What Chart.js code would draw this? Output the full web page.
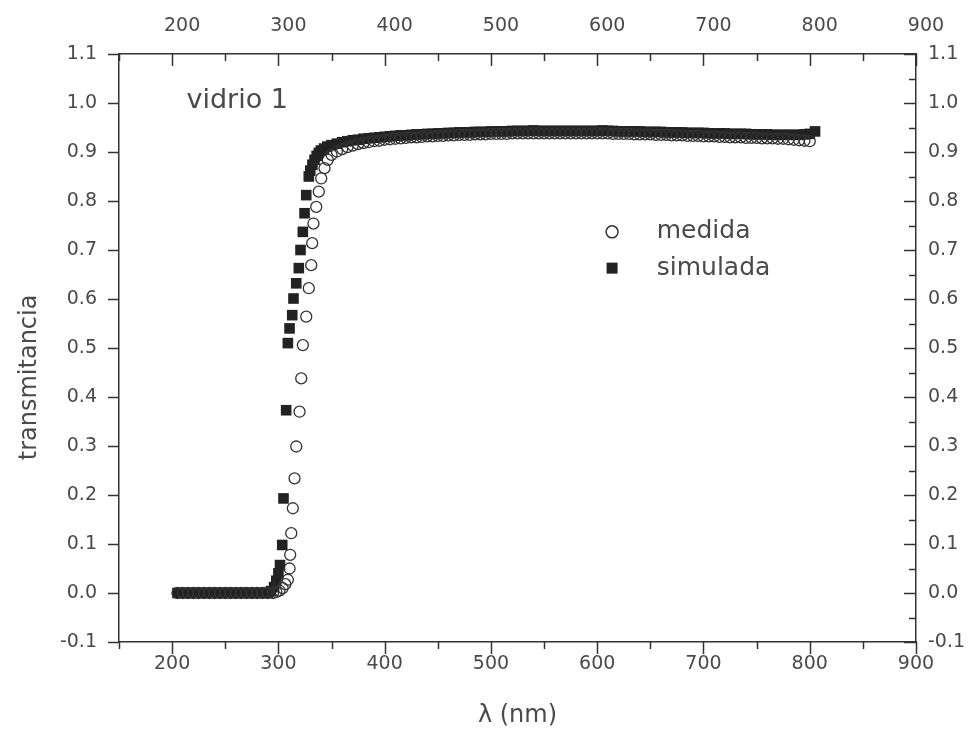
<!DOCTYPE html>
<html>
<head>
<meta charset="utf-8">
<script src="https://cdn.jsdelivr.net/npm/chart.js@4.4.0/dist/chart.umd.min.js"></script>
<style>
  html, body { margin: 0; padding: 0; background: #fff; }
  #wrap { width: 972px; height: 731px; }
</style>
</head>
<body>
<div id="wrap"><canvas id="chart" width="972" height="731"></canvas></div>
<script>
// tick values
const xTicks = [200, 300, 400, 500, 600, 700, 800, 900];
const xMinorTicks = [150, 250, 350, 450, 550, 650, 750, 850];
const yTicks = [-0.1, 0.0, 0.1, 0.2, 0.3, 0.4, 0.5, 0.6, 0.7, 0.8, 0.9, 1.0, 1.1];
const yMinorTicks = [-0.05, 0.05, 0.15, 0.25, 0.35, 0.45, 0.55, 0.65, 0.75, 0.85, 0.95, 1.05];

// medida (open circles)
const medidaX = [
  205, 210, 215, 220, 225, 230, 235, 240, 245, 250, 255, 260, 265, 270, 275, 280, 285, 290, 295,
  298, 301, 304, 306.5, 308.9, 310.5, 311.1, 312.1, 313.6, 315.2, 316.8, 319.9, 321.5, 323,
  326.2, 328.6, 330.9, 331.8, 333, 335.6, 338, 340.3, 343.4, 346.5,
  350, 355, 360, 365, 370, 375, 380, 385, 390, 395, 400, 405, 410, 415, 420, 425, 430, 435, 440, 445,
  450, 455, 460, 465, 470, 475, 480, 485, 490, 495, 500, 505, 510, 515, 520, 525, 530, 535, 540, 545,
  550, 555, 560, 565, 570, 575, 580, 585, 590, 595, 600, 605, 610, 615, 620, 625, 630, 635, 640, 645,
  650, 655, 660, 665, 670, 675, 680, 685, 690, 695, 700, 705, 710, 715, 720, 725, 730, 735, 740, 745,
  750, 755, 760, 765, 770, 775, 780, 785, 790, 795, 800
];
const medidaY = [
  0, 0, 0, 0, 0, 0, 0, 0, 0, 0, 0, 0, 0, 0, 0, 0, 0, 0, 0,
  0.002, 0.005, 0.010, 0.018, 0.027, 0.050, 0.078, 0.122, 0.173, 0.234, 0.299, 0.370, 0.438, 0.506,
  0.564, 0.622, 0.669, 0.714, 0.754, 0.788, 0.819, 0.846, 0.867, 0.884,
  0.894, 0.901, 0.906, 0.910, 0.913, 0.916, 0.918, 0.920, 0.922, 0.923, 0.925, 0.926, 0.927, 0.928, 0.929, 0.930, 0.930, 0.931, 0.932, 0.932,
  0.933, 0.933, 0.934, 0.934, 0.935, 0.935, 0.935, 0.936, 0.936, 0.936, 0.937, 0.937, 0.937, 0.937, 0.938, 0.938, 0.938, 0.938, 0.938, 0.938,
  0.938, 0.938, 0.938, 0.938, 0.938, 0.938, 0.938, 0.938, 0.938, 0.938, 0.938, 0.938, 0.938, 0.937, 0.937, 0.937, 0.937, 0.936, 0.936, 0.936,
  0.936, 0.935, 0.935, 0.935, 0.934, 0.934, 0.934, 0.933, 0.933, 0.933, 0.932, 0.932, 0.932, 0.931, 0.931, 0.930, 0.930, 0.930, 0.929, 0.929,
  0.929, 0.928, 0.928, 0.928, 0.927, 0.927, 0.926, 0.925, 0.924, 0.923, 0.922
];

// simulada (filled squares)
const simuladaX = [
  205, 210, 215, 220, 225, 230, 235, 240, 245, 250, 255, 260, 265, 270, 275, 280, 285, 290,
  293, 296, 298, 300, 301.5, 303.6, 304.8, 307.3, 308.9, 310.5, 313, 314.2, 316.8, 319.2, 320.8,
  323, 324.6, 326.2, 328.6, 330, 332, 334, 336, 338, 340, 343, 346,
  350, 355, 360, 365, 370, 375, 380, 385, 390, 395, 400, 405, 410, 415, 420, 425, 430, 435, 440, 445,
  450, 455, 460, 465, 470, 475, 480, 485, 490, 495, 500, 505, 510, 515, 520, 525, 530, 535, 540, 545,
  550, 555, 560, 565, 570, 575, 580, 585, 590, 595, 600, 605, 610, 615, 620, 625, 630, 635, 640, 645,
  650, 655, 660, 665, 670, 675, 680, 685, 690, 695, 700, 705, 710, 715, 720, 725, 730, 735, 740, 745,
  750, 755, 760, 765, 770, 775, 780, 785, 790, 795, 800, 805
];
const simuladaY = [
  0, 0, 0, 0, 0, 0, 0, 0, 0, 0, 0, 0, 0, 0, 0, 0, 0, 0,
  0.004, 0.012, 0.025, 0.040, 0.057, 0.098, 0.193, 0.373, 0.510, 0.540, 0.567, 0.601, 0.632, 0.663, 0.700,
  0.737, 0.775, 0.812, 0.850, 0.862, 0.874, 0.884, 0.892, 0.898, 0.903, 0.907, 0.911,
  0.914, 0.917, 0.920, 0.922, 0.924, 0.925, 0.927, 0.928, 0.929, 0.930, 0.931, 0.932, 0.933, 0.934, 0.934, 0.935, 0.936, 0.936, 0.937, 0.937,
  0.938, 0.938, 0.939, 0.939, 0.940, 0.940, 0.940, 0.941, 0.941, 0.941, 0.942, 0.942, 0.942, 0.942, 0.943, 0.943, 0.943, 0.943, 0.944, 0.943,
  0.943, 0.943, 0.943, 0.943, 0.943, 0.943, 0.943, 0.943, 0.943, 0.943, 0.943, 0.944, 0.943, 0.943, 0.942, 0.942, 0.942, 0.942, 0.942, 0.941,
  0.941, 0.941, 0.941, 0.940, 0.940, 0.940, 0.940, 0.939, 0.939, 0.939, 0.939, 0.938, 0.938, 0.938, 0.938, 0.937, 0.937, 0.937, 0.937, 0.936,
  0.936, 0.936, 0.936, 0.935, 0.935, 0.935, 0.935, 0.935, 0.935, 0.936, 0.937, 0.942
];

const toPoints = (xs, ys) => xs.map((x, i) => ({ x: x, y: ys[i] }));

const ink = '#333333';
const textInk = '#4a4a4a';
const fontFamily = '"DejaVu Sans", "Liberation Sans", Arial, sans-serif';

// short tick marks: bottom/left point out, top/right point in
const tickMarks = {
  id: 'tickMarks',
  afterDraw(chart) {
    const { ctx, chartArea: a, scales } = chart;
    ctx.save();
    ctx.strokeStyle = ink;
    ctx.lineWidth = 1.5;
    const vTicks = (vals, len, yBase, dir) => vals.forEach(v => {
      const px = Math.round(scales.x.getPixelForValue(v)) + 0.5;
      ctx.beginPath(); ctx.moveTo(px, yBase); ctx.lineTo(px, yBase + dir * len); ctx.stroke();
    });
    const hTicks = (vals, len, xBase, dir) => vals.forEach(v => {
      const py = Math.round(scales.y.getPixelForValue(v)) + 0.5;
      ctx.beginPath(); ctx.moveTo(xBase, py); ctx.lineTo(xBase + dir * len, py); ctx.stroke();
    });
    vTicks(xTicks, 12, a.bottom, 1);
    vTicks(xMinorTicks, 7, a.bottom, 1);
    vTicks(xTicks, 12, a.top, 1);
    vTicks(xMinorTicks, 7, a.top, 1);
    hTicks(yTicks, 11, a.left, -1);
    hTicks(yTicks, 12, a.right, -1);
    hTicks(yMinorTicks, 7, a.right, -1);
    ctx.restore();
  }
};

// sample label, y title and legend
const annotations = {
  id: 'annotations',
  afterDraw(chart) {
    const { ctx, scales: { x, y } } = chart;
    ctx.save();
    ctx.fillStyle = textInk;
    ctx.textBaseline = 'middle';
    ctx.textAlign = 'left';
    ctx.font = '27px ' + fontFamily;
    ctx.fillText('vidrio 1', x.getPixelForValue(213.5), y.getPixelForValue(1.004));

    // y axis title, sits a bit below the middle of the axis like the original
    ctx.save();
    ctx.translate(30, y.getPixelForValue(0.44));
    ctx.rotate(-Math.PI / 2);
    ctx.textAlign = 'center';
    ctx.font = '24px ' + fontFamily;
    ctx.fillText('transmitancia', 0, 0);
    ctx.restore();

    ctx.font = '25px ' + fontFamily;
    const lx = x.getPixelForValue(614);
    const tx = x.getPixelForValue(656);
    const y1 = y.getPixelForValue(0.737);
    const y2 = y.getPixelForValue(0.663);
    ctx.fillText('medida', tx, y1);
    ctx.fillText('simulada', tx, y2);

    ctx.strokeStyle = ink;
    ctx.lineWidth = 1.5;
    ctx.beginPath(); ctx.arc(lx, y1, 6, 0, Math.PI * 2); ctx.stroke();
    ctx.fillStyle = '#222';
    ctx.fillRect(lx - 5.5, y2 - 5.5, 11, 11);
    ctx.restore();
  }
};

const fixedTicks = vals => scale => { scale.ticks = vals.map(v => ({ value: v })); };
const tickFont = { family: fontFamily, size: 19 };
const titleFont = { family: fontFamily, size: 24 };
const noGrid = { display: false, drawTicks: false };
const axisBorder = { display: true, color: ink, width: 1.5 };

new Chart(document.getElementById('chart'), {
  type: 'scatter',
  data: {
    datasets: [
      {
        label: 'medida',
        data: toPoints(medidaX, medidaY),
        pointStyle: 'circle',
        pointRadius: 5.5,
        pointBorderWidth: 1.3,
        borderColor: ink,
        backgroundColor: 'rgba(255,255,255,0)',
        xAxisID: 'x',
        yAxisID: 'y'
      },
      {
        label: 'simulada',
        data: toPoints(simuladaX, simuladaY),
        pointStyle: 'rect',
        pointRadius: 7.5,
        pointBorderWidth: 0,
        borderColor: '#222',
        backgroundColor: '#222',
        xAxisID: 'x',
        yAxisID: 'y'
      }
    ]
  },
  options: {
    responsive: false,
    animation: false,
    layout: { padding: 0 },
    plugins: {
      legend: { display: false },
      tooltip: { enabled: false }
    },
    scales: {
      x: {
        type: 'linear', position: 'bottom', min: 150, max: 900,
        afterBuildTicks: fixedTicks(xTicks),
        afterFit: s => { s.height = 89; },
        grid: noGrid, border: axisBorder,
        ticks: { font: tickFont, color: textInk, padding: 11, maxRotation: 0 },
        title: {
          display: true, text: 'λ (nm)', color: textInk,
          font: titleFont, padding: { top: 0, bottom: 1 }
        }
      },
      x2: {
        type: 'linear', position: 'top', min: 150, max: 900,
        afterBuildTicks: fixedTicks(xTicks),
        afterFit: s => { s.height = 54; },
        grid: noGrid, border: axisBorder,
        ticks: { font: tickFont, color: textInk, padding: 17, labelOffset: 10, maxRotation: 0 }
      },
      y: {
        type: 'linear', position: 'left', min: -0.1, max: 1.1,
        afterBuildTicks: fixedTicks(yTicks),
        afterFit: s => { s.width = 119; },
        grid: noGrid, border: axisBorder,
        ticks: { font: tickFont, color: textInk, padding: 22, callback: v => v.toFixed(1) }
      },
      y2: {
        type: 'linear', position: 'right', min: -0.1, max: 1.1,
        afterBuildTicks: fixedTicks(yTicks),
        afterFit: s => { s.width = 56; },
        grid: noGrid, border: axisBorder,
        ticks: { font: tickFont, color: textInk, padding: 12, callback: v => v.toFixed(1) }
      }
    }
  },
  plugins: [tickMarks, annotations]
});
</script>
</body>
</html>
